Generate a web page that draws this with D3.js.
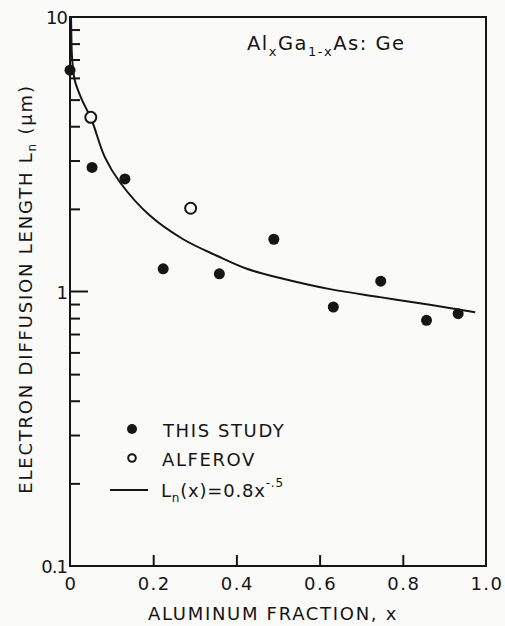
<!DOCTYPE html>
<html><head><meta charset="utf-8">
<script src="https://cdn.jsdelivr.net/npm/d3@7"></script>
<style>
html,body{margin:0;padding:0;background:#fafaf8;}
svg{display:block;}
text{font-family:"DejaVu Sans","Liberation Sans",Arial,sans-serif;fill:#151515;}
</style></head>
<body>
<script>
// ---- data ----
const thisStudyX = [0.0, 0.053, 0.132, 0.224, 0.359, 0.49, 0.633, 0.747, 0.857, 0.933];
const thisStudyY = [6.4, 2.83, 2.57, 1.21, 1.16, 1.55, 0.878, 1.09, 0.785, 0.83];
const alferovX = [0.05, 0.29];
const alferovY = [4.31, 2.01];
// fitted curve
const fitX = [0.0024, 0.003, 0.0048, 0.0113, 0.0288, 0.0512, 0.084, 0.12, 0.192, 0.272, 0.353, 0.425, 0.505, 0.625, 0.745, 0.865, 0.974];
const fitY = [10.0, 9.0, 7.18, 5.9, 4.99, 4.25, 3.08, 2.50, 1.89, 1.55, 1.35, 1.21, 1.12, 1.02, 0.954, 0.895, 0.84];
const xTicks = [0, 0.2, 0.4, 0.6, 0.8, 1.0];
const xTickLabels = ["0", "0.2", "0.4", "0.6", "0.8", "1.0"];
const yMajor = [0.1, 1, 10];
const yMajorLabels = ["0.1", "1", "10"];
const yMinor = [0.2,0.3,0.4,0.5,0.6,0.7,0.8,0.9,2,3,4,5,6,7,8,9];
const legendLabels = ["THIS STUDY", "ALFEROV"];

const W = 505, H = 626;
const L = 70, R = 486, T = 17, B = 566;
const ink = "#151515";

const svg = d3.select("body").append("svg").attr("width", W).attr("height", H);
const x = d3.scaleLinear().domain([0, 1]).range([L, R]);
const y = d3.scaleLog().domain([0.1, 10]).range([B, T]);

// frame
svg.append("rect").attr("x", L).attr("y", T).attr("width", R - L).attr("height", B - T)
  .attr("fill", "none").attr("stroke", ink).attr("stroke-width", 2);

// y ticks (inward)
const yAxis = d3.axisRight(y).tickValues(yMinor).tickSize(10).tickFormat("");
const gy = svg.append("g").attr("transform", `translate(${L},0)`).call(yAxis);
gy.select(".domain").remove();
gy.selectAll("line").attr("stroke", ink).attr("stroke-width", 2);
svg.append("line").attr("x1", L).attr("x2", L + 18).attr("y1", y(1)).attr("y2", y(1))
  .attr("stroke", ink).attr("stroke-width", 2);
svg.selectAll(".ylab").data(yMajor).enter().append("text")
  .attr("x", L - 3).attr("y", d => y(d) + 7).attr("text-anchor", "end")
  .attr("font-size", 18).attr("letter-spacing", -1).text((d, i) => yMajorLabels[i]);

// x ticks (inward from bottom)
const xAxis = d3.axisTop(x).tickValues(xTicks.slice(1, -1)).tickSize(11).tickFormat("");
const gx = svg.append("g").attr("transform", `translate(0,${B})`).call(xAxis);
gx.select(".domain").remove();
gx.selectAll("line").attr("stroke", ink).attr("stroke-width", 2);
svg.selectAll(".xlab").data(xTicks).enter().append("text")
  .attr("x", d => x(d) + 1).attr("y", 590).attr("text-anchor", "middle")
  .attr("font-size", 18).attr("letter-spacing", 1.5).text((d, i) => xTickLabels[i]);

// axis titles
svg.append("text").attr("x", 273).attr("y", 620).attr("text-anchor", "middle")
  .attr("font-size", 18).attr("letter-spacing", 1.7).text("ALUMINUM FRACTION, x");
const yt = svg.append("text").attr("transform", "translate(32,289) rotate(-90)")
  .attr("text-anchor", "middle").attr("font-size", 18).attr("letter-spacing", 1.8);
yt.append("tspan").text("ELECTRON DIFFUSION LENGTH L");
yt.append("tspan").attr("font-size", 12).attr("dy", 4).text("n");
yt.append("tspan").attr("dy", -4).text(" (\u03bcm)");

// annotation
const ann = svg.append("text").attr("x", 247).attr("y", 50).attr("font-size", 19.5).attr("letter-spacing", 1.5);
ann.append("tspan").text("Al");
ann.append("tspan").attr("font-size", 13).attr("dy", 6).text("x");
ann.append("tspan").attr("dy", -6).text("Ga");
ann.append("tspan").attr("font-size", 13).attr("dy", 6).text("1-x");
ann.append("tspan").attr("dy", -6).text("As: Ge");

// fitted curve
const fit = fitX.map((d, i) => [d, fitY[i]]);
svg.append("path").datum(fit)
  .attr("d", d3.line().x(d => x(d[0])).y(d => y(d[1])).curve(d3.curveCatmullRom.alpha(0.5)))
  .attr("fill", "none").attr("stroke", ink).attr("stroke-width", 2);

// points
svg.selectAll(".ts").data(thisStudyX).enter().append("circle")
  .attr("cx", d => x(d)).attr("cy", (d, i) => y(thisStudyY[i])).attr("r", 5.5)
  .attr("fill", ink);
svg.selectAll(".al").data(alferovX).enter().append("circle")
  .attr("cx", d => x(d)).attr("cy", (d, i) => y(alferovY[i])).attr("r", 5.5)
  .attr("fill", "#fafaf8").attr("stroke", ink).attr("stroke-width", 2);

// legend
svg.append("circle").attr("cx", 132).attr("cy", 429).attr("r", 5).attr("fill", ink);
svg.append("text").attr("x", 163).attr("y", 437).attr("font-size", 18).attr("letter-spacing", 1.6).text(legendLabels[0]);
svg.append("circle").attr("cx", 132).attr("cy", 458).attr("r", 3.8)
  .attr("fill", "none").attr("stroke", ink).attr("stroke-width", 2);
svg.append("text").attr("x", 162).attr("y", 466).attr("font-size", 18).attr("letter-spacing", 1.6).text(legendLabels[1]);
svg.append("line").attr("x1", 110).attr("x2", 148).attr("y1", 490).attr("y2", 490)
  .attr("stroke", ink).attr("stroke-width", 2);
const lf = svg.append("text").attr("x", 161).attr("y", 497).attr("font-size", 18).attr("letter-spacing", 0.8);
lf.append("tspan").text("L");
lf.append("tspan").attr("font-size", 12).attr("dy", 5).text("n");
lf.append("tspan").attr("dy", -5).text("(x)=0.8x");
lf.append("tspan").attr("font-size", 12).attr("dy", -10).text("-.5");
</script>
</body></html>
